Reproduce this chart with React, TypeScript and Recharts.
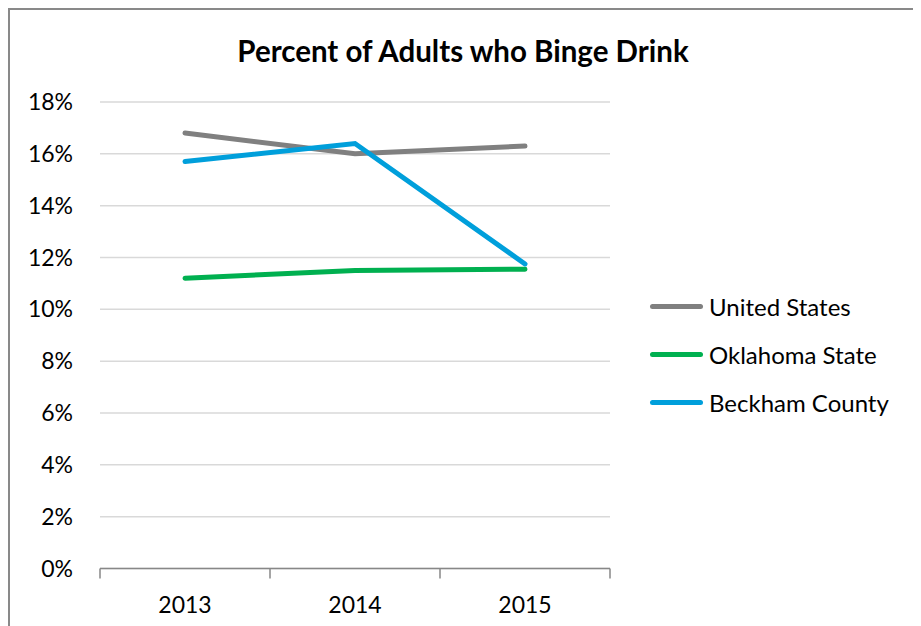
import React from 'react';
import {
  LineChart,
  Line,
  XAxis,
  YAxis,
  CartesianGrid,
  Legend,
} from 'recharts';

const years = ['2013', '2014', '2015'];
const unitedStates = [16.8, 16.0, 16.3];
const oklahomaState = [11.2, 11.5, 11.55];
const beckhamCounty = [15.7, 16.4, 11.75];
const yTicks = [0, 2, 4, 6, 8, 10, 12, 14, 16, 18];
// category boundaries and centres on a 0..3 band axis
const xTicks = [0, 0.5, 1, 1.5, 2, 2.5, 3];

const series = [
  { key: 'United States', color: '#808080' },
  { key: 'Oklahoma State', color: '#00b050' },
  { key: 'Beckham County', color: '#009fdb' },
];

const FONT = 'Lato, "Liberation Sans", sans-serif';
const AXIS = '#878787';

const LegendList = () => (
  <div style={{ fontFamily: FONT, fontSize: 24, color: '#000' }}>
    {series.map(s => (
      <div key={s.key} style={{ display: 'flex', alignItems: 'center', height: 48 }}>
        <span
          style={{
            display: 'inline-block',
            width: 53,
            height: 5,
            borderRadius: 3,
            background: s.color,
            marginRight: 6,
          }}
        />
        <span>{s.key}</span>
      </div>
    ))}
  </div>
);

// boundary ticks get a short mark, centre ticks get the year label
const YearTick = (props: any) => {
  const { x, y, payload } = props;
  const v = payload.value as number;
  if (Number.isInteger(v)) {
    return <line x1={x} x2={x} y1={y} y2={y + 10} stroke={AXIS} strokeWidth={1.5} />;
  }
  return (
    <text x={x} y={y + 44} textAnchor="middle" fill="#000" fontSize={23} fontFamily={FONT}>
      {years[Math.floor(v)]}
    </text>
  );
};

const App: React.FC = () => {
  // build rows for the chart from the small arrays above
  const data = years.map((year, i) => ({
    year,
    pos: i + 0.5,
    'United States': unitedStates[i],
    'Oklahoma State': oklahomaState[i],
    'Beckham County': beckhamCounty[i],
  }));

  return (
    <div
      style={{
        position: 'relative',
        boxSizing: 'border-box',
        width: 910,
        height: 640,
        border: '2px solid #898989',
        borderBottom: 'none',
        background: '#fff',
      }}
    >
      <div
        style={{
          position: 'absolute',
          left: 0,
          top: 23,
          width: 906,
          textAlign: 'center',
          fontFamily: FONT,
          fontWeight: 700,
          fontSize: 29.5,
          color: '#000',
        }}
      >
        Percent of Adults who Binge Drink
      </div>
      <LineChart
        width={898}
        height={616}
        data={data}
        margin={{ top: 92, right: 298, left: 20, bottom: 7.5 }}
      >
        <CartesianGrid vertical={false} stroke="#d9d9d9" strokeWidth={1.5} />
        <XAxis
          dataKey="pos"
          type="number"
          domain={[0, 3]}
          ticks={xTicks}
          interval={0}
          height={50}
          tickSize={0}
          tickMargin={0}
          tickLine={false}
          axisLine={{ stroke: AXIS, strokeWidth: 1.5 }}
          tick={<YearTick />}
        />
        <YAxis
          width={70}
          domain={[0, 18]}
          ticks={yTicks}
          tickFormatter={(v: number) => `${v}%`}
          axisLine={false}
          tickLine={false}
          tickSize={0}
          tickMargin={27}
          tick={{ fill: '#000', fontSize: 23, fontFamily: FONT }}
        />
        <Legend
          layout="vertical"
          align="center"
          verticalAlign="middle"
          content={() => <LegendList />}
          wrapperStyle={{ position: 'absolute', left: 640, top: 272, width: 260 }}
        />
        {series.map(s => (
          <Line
            key={s.key}
            type="linear"
            dataKey={s.key}
            stroke={s.color}
            strokeWidth={5}
            strokeLinecap="round"
            dot={false}
            activeDot={false}
            isAnimationActive={false}
          />
        ))}
      </LineChart>
    </div>
  );
};

export default App;
